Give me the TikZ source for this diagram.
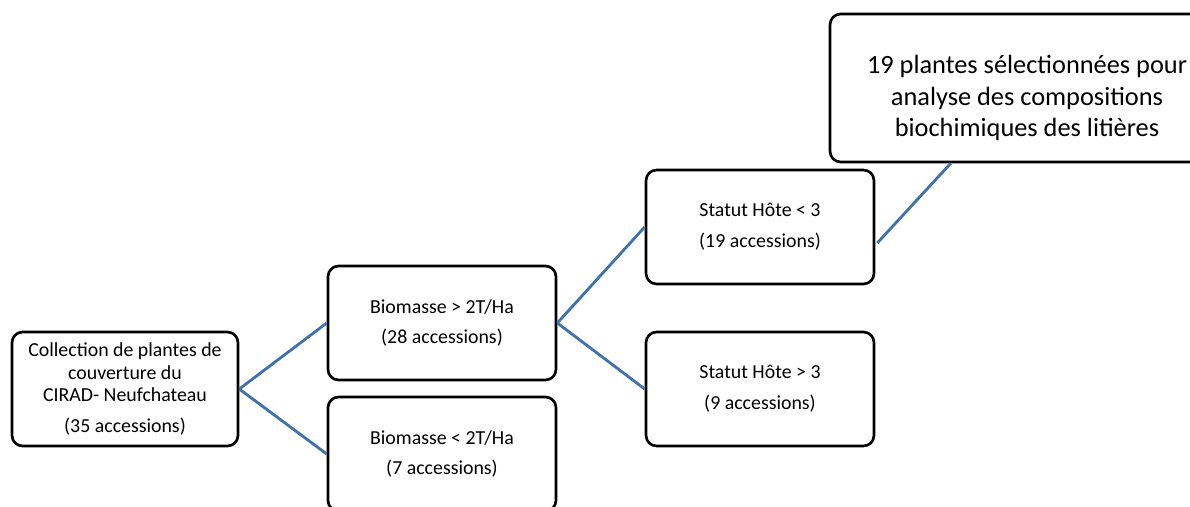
\documentclass[tikz,border=0pt]{standalone}
\usepackage{fontspec}
\setmainfont{Carlito}
\usetikzlibrary{calc}
\definecolor{lienbleu}{HTML}{3F72AD}

\tikzset{
  boite/.style={draw=black, line width=1.5pt, rounded corners=6pt, align=center,
                minimum width=4.56cm, minimum height=2.28cm,
                font=\fontsize{11.3}{12.6}\selectfont},
  grandeboite/.style={boite, minimum width=7.88cm, minimum height=2.96cm,
                font=\fontsize{15}{18}\selectfont},
  lien/.style={draw=lienbleu, line width=1.6pt}
}

\begin{document}
\begin{tikzpicture}[x=0.02cm, y=-0.02cm]
\clip (0,0) rectangle (1190,507);
\node[boite, minimum width=4.52cm] (collection) at (125,389)
   {Collection de plantes de\\ couverture du\\ CIRAD- Neufchateau\\[5pt] (35 accessions)};
\node[boite] (bioplus)  at (442,323) {Biomasse > 2T/Ha\\[5pt] (28 accessions)};
\node[boite] (biomoins) at (442,454) {Biomasse < 2T/Ha\\[4pt] (7 accessions)};
\node[boite] (hotemoins) at (760,227) {Statut Hôte < 3\\[5pt] (19 accessions)};
\node[boite] (hoteplus)  at (760,389) {Statut Hôte > 3\\[5pt] (9 accessions)};
\node[grandeboite] (selection) at (1027,88)
   {\rule{0pt}{22pt}19 plantes sélectionnées pour\\ analyse des compositions\\ biochimiques des litières};

\draw[lien] (collection.east) -- (bioplus.west);
\draw[lien] (collection.east) -- (biomoins.west);
\draw[lien] (bioplus.east) -- (hotemoins.west);
\draw[lien] (bioplus.east) -- (hoteplus.west);
\draw[lien] ($(hotemoins.east)+(2,16)$) -- ($(selection.south west)+(122,0)$);

\end{tikzpicture}
\end{document}
